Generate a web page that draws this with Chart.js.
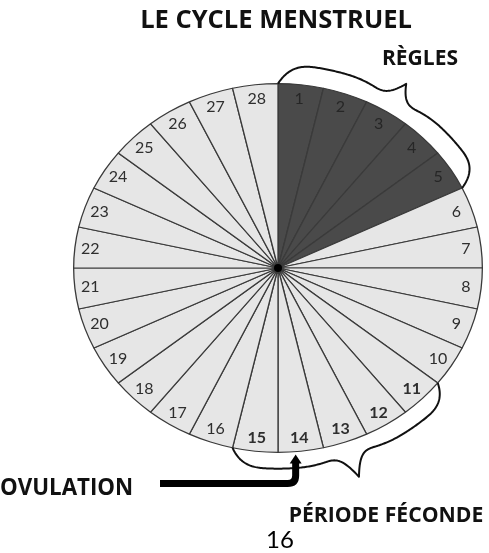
<!DOCTYPE html>
<html>
<head>
<meta charset="utf-8">
<script src="https://cdn.jsdelivr.net/npm/chart.js@4/dist/chart.umd.min.js"></script>
<style>
  html, body { margin: 0; padding: 0; background: #fff; }
  canvas { display: block; }
</style>
</head>
<body>
<canvas id="myChart" width="489" height="553"></canvas>
<script>
// données du cycle
const jours = ['1','2','3','4','5','6','7','8','9','10','11','12','13','14','15','16','17','18','19','20','21','22','23','24','25','26','27','28'];
const duree = [1,1,1,1,1,1,1,1,1,1,1,1,1,1,1,1,1,1,1,1,1,1,1,1,1,1,1,1];
const joursRegles = ['1','2','3','4','5'];
const joursFeconds = ['11','12','13','14','15'];
const jourOvulation = '14';

// l'image est un peu écrasée en hauteur
const K = 185 / 205;
const FONT = 'Lato, "Open Sans", sans-serif';
const FONT_TITRE = '"Open Sans", Lato, sans-serif';

function ellipsePoint(arc, angle, r) {
  return { x: arc.x + Math.cos(angle) * r, y: arc.y + Math.sin(angle) * r * K };
}

// texte ajusté à une largeur donnée
function fitText(ctx, txt, weight, width, x, y) {
  ctx.font = weight + ' 20px ' + FONT_TITRE;
  const size = 20 * width / ctx.measureText(txt).width;
  ctx.font = weight + ' ' + size.toFixed(1) + 'px ' + FONT_TITRE;
  ctx.fillText(txt, x, y);
}

function drawBrace(ctx, arc, a0, a1, base, tip) {
  const R = arc.outerRadius;
  ctx.beginPath();
  const n = 200;
  for (let i = 0; i <= n; i++) {
    const t = i / n;
    const u = Math.min(t, 1 - t);
    const s = 1 - Math.pow(1 - Math.min(1, u / 0.16), 3);
    const g = Math.pow(1 - Math.min(1, Math.abs(t - 0.5) / 0.11), 3);
    const dip = Math.pow(1 - Math.min(1, Math.abs(t - 0.5) / 0.22), 2);
    const off = base * s - base * 0.4 * dip + tip * g;
    const p = ellipsePoint(arc, a0 + (a1 - a0) * t, R + off);
    if (i === 0) ctx.moveTo(p.x, p.y); else ctx.lineTo(p.x, p.y);
  }
  ctx.strokeStyle = '#111';
  ctx.lineWidth = 2;
  ctx.lineJoin = 'round';
  ctx.stroke();
}

const cycleDecor = {
  id: 'cycleDecor',
  beforeDatasetsDraw(chart) {
    const ctx = chart.ctx;
    const arc = chart.getDatasetMeta(0).data[0];
    ctx.save();
    ctx.translate(arc.x, arc.y);
    ctx.scale(1, K);
    ctx.translate(-arc.x, -arc.y);
  },
  afterDatasetsDraw(chart) {
    const ctx = chart.ctx;
    ctx.restore();
    const arcs = chart.getDatasetMeta(0).data;
    const a = arcs[0];

    // point central
    ctx.save();
    ctx.fillStyle = '#000';
    ctx.beginPath();
    ctx.arc(a.x, a.y, 4, 0, Math.PI * 2);
    ctx.fill();
    ctx.restore();

    // numéros des jours
    ctx.save();
    ctx.textAlign = 'center';
    ctx.textBaseline = 'middle';
    arcs.forEach((el, i) => {
      const mid = (el.startAngle + el.endAngle) / 2;
      const p = ellipsePoint(el, mid, el.outerRadius * 0.925);
      const j = jours[i];
      ctx.font = (joursFeconds.includes(j) ? 'bold ' : '') + '16px ' + FONT;
      ctx.fillStyle = joursRegles.includes(j) ? '#262626' : '#2e2e2e';
      ctx.fillText(j, p.x, p.y);
    });
    ctx.restore();

    // accolades
    const iR0 = jours.indexOf(joursRegles[0]);
    const iR1 = jours.indexOf(joursRegles[joursRegles.length - 1]);
    drawBrace(ctx, a, arcs[iR0].startAngle, arcs[iR1].endAngle, 21, 24);
    const iF0 = jours.indexOf(joursFeconds[0]);
    const iF1 = jours.indexOf(joursFeconds[joursFeconds.length - 1]);
    drawBrace(ctx, a, arcs[iF0].startAngle, arcs[iF1].endAngle, 18, 30);

    // flèche ovulation
    const ov = arcs[jours.indexOf(jourOvulation)];
    const tipA = ov.startAngle + (ov.endAngle - ov.startAngle) * 0.62;
    const tip = ellipsePoint(a, tipA, a.outerRadius + 3);
    const yH = a.y + a.outerRadius * K + 31;
    ctx.save();
    ctx.strokeStyle = '#000';
    ctx.fillStyle = '#000';
    ctx.lineWidth = 7;
    ctx.lineJoin = 'round';
    ctx.beginPath();
    ctx.moveTo(160, yH);
    ctx.lineTo(tip.x - 8, yH);
    ctx.quadraticCurveTo(tip.x, yH, tip.x, yH - 8);
    ctx.lineTo(tip.x, tip.y + 8);
    ctx.stroke();
    ctx.beginPath();
    ctx.moveTo(tip.x - 6, tip.y + 9);
    ctx.lineTo(tip.x, tip.y);
    ctx.lineTo(tip.x + 6, tip.y + 9);
    ctx.closePath();
    ctx.fill();
    ctx.restore();

    // textes
    ctx.save();
    ctx.fillStyle = '#111';
    ctx.textBaseline = 'middle';
    ctx.textAlign = 'center';
    fitText(ctx, 'LE CYCLE MENSTRUEL', 'bold', 272, 276, 21);
    fitText(ctx, 'RÈGLES', 'bold', 76, 420, 59);
    fitText(ctx, 'PÉRIODE FÉCONDE', 'bold', 195, 386, 516);
    ctx.textAlign = 'left';
    fitText(ctx, 'OVULATION', 'bold', 133, 0, 489);
    ctx.textAlign = 'center';
    ctx.fillStyle = '#000';
    ctx.font = '24px ' + FONT;
    ctx.fillText('16', 280, 540);
    ctx.restore();
  }
};

const ctx = document.getElementById('myChart');

new Chart(ctx, {
  type: 'pie',
  data: {
    labels: jours,
    datasets: [{
      data: duree,
      backgroundColor: jours.map(j => joursRegles.includes(j) ? '#4a4a4a' : '#e6e6e6'),
      borderColor: '#3a3a3a',
      borderWidth: 1.3
    }]
  },
  options: {
    responsive: false,
    animation: false,
    devicePixelRatio: 1,
    layout: { padding: { left: 73, right: 6, top: 63, bottom: 80 } },
    plugins: {
      legend: { display: false },
      tooltip: { enabled: false }
    }
  },
  plugins: [cycleDecor]
});
</script>
</body>
</html>
